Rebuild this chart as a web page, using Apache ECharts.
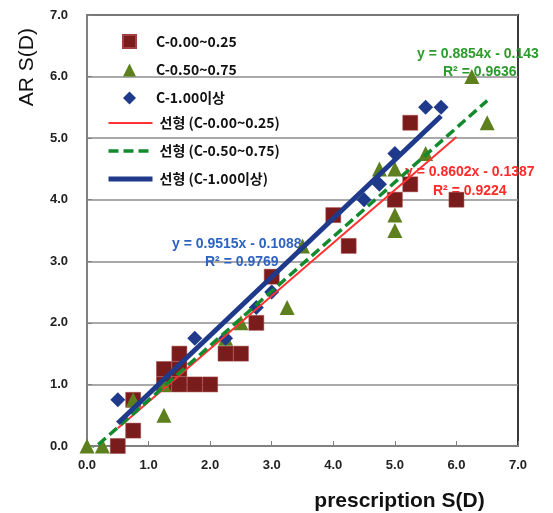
<!DOCTYPE html>
<html>
<head>
<meta charset="utf-8">
<script src="https://cdn.jsdelivr.net/npm/echarts@6/dist/echarts.min.js"></script>
<style>
html, body { margin: 0; padding: 0; background: #fff; }
#chart { width: 553px; height: 513px; }
</style>
</head>
<body>
<div id="chart"></div>
<script>
// C-0.00~0.25 (squares)
var sqX = [0.5, 0.75, 0.75, 1.25, 1.25, 1.5, 1.5, 1.5, 1.75, 2.0, 2.25, 2.5, 2.75, 3.0, 4.0, 4.25, 5.0, 5.25, 5.25, 6.0];
var sqY = [0.0, 0.25, 0.75, 1.0, 1.25, 1.0, 1.25, 1.5, 1.0, 1.0, 1.5, 1.5, 2.0, 2.75, 3.75, 3.25, 4.0, 4.25, 5.25, 4.0];
// C-0.50~0.75 (triangles)
var trX = [0.0, 0.25, 0.75, 1.25, 1.25, 2.25, 2.5, 3.25, 3.5, 4.75, 5.0, 5.0, 5.0, 5.5, 6.25, 6.5];
var trY = [0.0, 0.0, 0.75, 0.5, 1.0, 1.75, 2.0, 2.25, 3.25, 4.5, 4.5, 3.75, 3.5, 4.75, 6.0, 5.25];
// C-1.00이상 (diamonds)
var dmX = [0.5, 1.75, 2.25, 2.75, 3.0, 4.5, 4.75, 5.0, 5.5, 5.75];
var dmY = [0.75, 1.75, 1.75, 2.25, 2.5, 4.0, 4.25, 4.75, 5.5, 5.5];

// trendline end points (x, y)
var fitRed = [[0.5, 0.29], [6.0, 5.02]];
var fitGreen = [[0.0, -0.14], [6.5, 5.61]];
var fitBlue = [[0.5, 0.37], [5.75, 5.36]];

var names = ['C-0.00~0.25', 'C-0.50~0.75', 'C-1.00이상',
  '선형 (C-0.00~0.25)', '선형 (C-0.50~0.75)', '선형 (C-1.00이상)'];
var lineWidths = [2, 3.5, 5];
var eqRed = ['y = 0.8602x - 0.1387', 'R² = 0.9224'];
var eqGreen = ['y = 0.8854x - 0.143', 'R² = 0.9636'];
var eqBlue = ['y = 0.9515x - 0.1088', 'R² = 0.9769'];

function pairs(xs, ys) {
  return xs.map(function (x, i) { return [x, ys[i]]; });
}

var axisLabel = { fontSize: 13, fontWeight: 'bold', color: '#222', fontFamily: 'Arial, Liberation Sans', formatter: function (v) { return v.toFixed(1); } };
var eqFont = 'bold 14px "Liberation Sans", Arial, sans-serif';
var legendText = { fontSize: 14, fontWeight: 'bold', color: '#111', fontFamily: '"Noto Sans CJK KR", sans-serif' };

var option = {
  animation: false,
  grid: { left: 87, right: 35, top: 15, bottom: 67, show: true, borderColor: '#3a3a3a', borderWidth: 2,
    containLabel: false, outerBoundsMode: 'none' },
  xAxis: {
    type: 'value', min: 0, max: 7, interval: 1,
    name: 'prescription S(D)', nameLocation: 'middle', nameGap: 45,
    nameTextStyle: { fontSize: 21, fontWeight: 'bold', color: '#111', fontFamily: 'Liberation Sans', padding: [0, 0, 0, 194] },
    axisLine: { lineStyle: { color: '#808080', width: 2 } },
    axisTick: { inside: true, length: 5, lineStyle: { color: '#808080' } },
    axisLabel: Object.assign({ margin: 13 }, axisLabel),
    splitLine: { show: false }
  },
  yAxis: {
    type: 'value', min: 0, max: 7, interval: 1,
    name: 'AR S(D)', nameLocation: 'end', nameRotate: 90, nameGap: -13,
    nameTextStyle: { fontSize: 21, color: '#111', fontFamily: 'Liberation Sans', align: 'right', verticalAlign: 'bottom', padding: [0, 0, 49, 0] },
    axisLine: { show: true, lineStyle: { color: '#808080', width: 2 } },
    axisTick: { show: true, inside: true, length: 5, lineStyle: { color: '#808080' } },
    axisLabel: Object.assign({ margin: 19 }, axisLabel),
    splitLine: { lineStyle: { color: '#8c8c8c', width: 1.5 } }
  },
  legend: [{
    orient: 'vertical', left: 117, top: 29, itemWidth: 13, itemHeight: 13, itemGap: 14,
    symbolKeepAspect: true,
    textStyle: Object.assign({ padding: [0, 0, 0, 15] }, legendText),
    data: names.slice(0, 3)
  }, {
    orient: 'vertical', left: 101, top: 111, itemWidth: 44, itemHeight: 13, itemGap: 14,
    textStyle: Object.assign({ padding: [0, 0, 0, 2] }, legendText),
    data: names.slice(3).map(function (n, i) {
      return { name: n, itemStyle: { opacity: 0 }, lineStyle: { width: lineWidths[i] } };
    })
  }],
  graphic: [
    { type: 'text', left: 417, top: 47, z: 1, style: { text: eqGreen[0], font: eqFont, fill: '#2c9a2c' } },
    { type: 'text', left: 443, top: 65, z: 1, style: { text: eqGreen[1], font: eqFont, fill: '#2c9a2c' } },
    { type: 'text', left: 405, top: 165, z: 1, style: { text: eqRed[0], font: eqFont, fill: '#ff2a2a' } },
    { type: 'text', left: 433, top: 184, z: 1, style: { text: eqRed[1], font: eqFont, fill: '#ff2a2a' } },
    { type: 'text', left: 172, top: 237, z: 1, style: { text: eqBlue[0], font: eqFont, fill: '#2f62c0' } },
    { type: 'text', left: 205, top: 255, z: 1, style: { text: eqBlue[1], font: eqFont, fill: '#2f62c0' } }
  ],
  series: [
    { name: names[0], type: 'scatter', symbol: 'rect', symbolSize: 15, symbolKeepAspect: true, data: pairs(sqX, sqY),
      itemStyle: { color: '#7b1c1c', borderColor: '#a04040', borderWidth: 0.5, opacity: 1 } },
    { name: names[1], type: 'scatter', symbol: 'triangle', symbolSize: 15, symbolKeepAspect: true, data: pairs(trX, trY),
      itemStyle: { color: '#5d7f1e', opacity: 1 } },
    { name: names[2], type: 'scatter', symbol: 'diamond', symbolSize: 15, symbolKeepAspect: true, data: pairs(dmX, dmY),
      itemStyle: { color: '#1f3a8a', opacity: 1 } },
    { name: names[3], type: 'line', data: fitRed, symbol: 'none', clip: true,
      lineStyle: { color: '#ff3333', width: lineWidths[0] }, itemStyle: { color: '#ff3333' } },
    { name: names[4], type: 'line', data: fitGreen, symbol: 'none', clip: true,
      lineStyle: { color: '#138a2e', width: lineWidths[1], type: [10, 5] }, itemStyle: { color: '#138a2e' } },
    { name: names[5], type: 'line', data: fitBlue, symbol: 'none', clip: true,
      lineStyle: { color: '#1f3a8a', width: lineWidths[2] }, itemStyle: { color: '#1f3a8a' } }
  ]
};

var chart = echarts.init(document.getElementById('chart'));
chart.setOption(option);
</script>
</body>
</html>
